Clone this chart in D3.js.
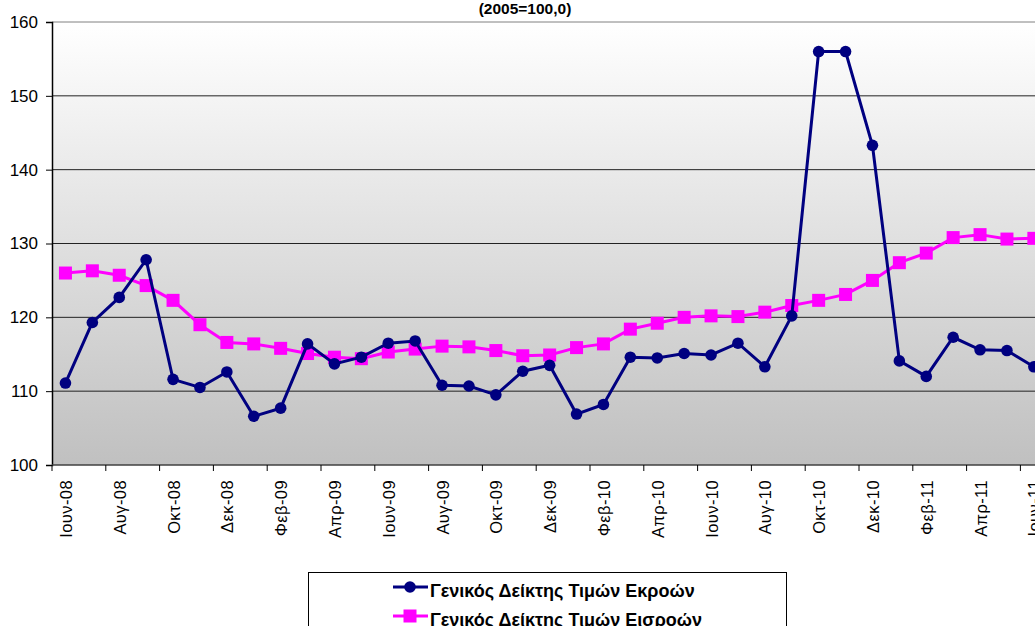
<!DOCTYPE html>
<html lang="el">
<head>
<meta charset="UTF-8">
<title>Γενικός Δείκτης Τιμών</title>
<script src="https://d3js.org/d3.v7.min.js"></script>
<style>
  body { margin: 0; padding: 0; background: #fff; }
  svg { display: block; font-family: "Liberation Sans", Arial, sans-serif; }
</style>
</head>
<body>
<div id="chart"></div>
<script>
  // months, Jun-08 .. Jun-11
  var months = ['Ιουν-08', 'Ιουλ-08', 'Αυγ-08', 'Σεπ-08', 'Οκτ-08', 'Νοε-08', 'Δεκ-08',
    'Ιαν-09', 'Φεβ-09', 'Μαρ-09', 'Απρ-09', 'Μαϊ-09', 'Ιουν-09', 'Ιουλ-09', 'Αυγ-09',
    'Σεπ-09', 'Οκτ-09', 'Νοε-09', 'Δεκ-09', 'Ιαν-10', 'Φεβ-10', 'Μαρ-10', 'Απρ-10',
    'Μαϊ-10', 'Ιουν-10', 'Ιουλ-10', 'Αυγ-10', 'Σεπ-10', 'Οκτ-10', 'Νοε-10', 'Δεκ-10',
    'Ιαν-11', 'Φεβ-11', 'Μαρ-11', 'Απρ-11', 'Μαϊ-11', 'Ιουν-11'];

  var outputIndex = [111.1, 119.3, 122.7, 127.8, 111.6, 110.5, 112.6, 106.6, 107.7, 116.4,
    113.7, 114.6, 116.5, 116.8, 110.8, 110.7, 109.5, 112.7, 113.5, 106.9, 108.2, 114.6,
    114.5, 115.1, 114.9, 116.5, 113.3, 120.2, 156.0, 156.0, 143.3, 114.1, 112.0, 117.3,
    115.6, 115.5, 113.3];

  var inputIndex = [126.0, 126.3, 125.7, 124.3, 122.3, 119.0, 116.6, 116.4, 115.8, 115.1,
    114.6, 114.4, 115.3, 115.7, 116.1, 116.0, 115.5, 114.8, 114.9, 115.9, 116.4, 118.4,
    119.2, 120.0, 120.2, 120.1, 120.7, 121.6, 122.3, 123.1, 125.0, 127.4, 128.7, 130.8,
    131.2, 130.6, 130.7];

  var yTicks = [100, 110, 120, 130, 140, 150, 160];
  var seriesNames = ['Γενικός Δείκτης Τιμών Εκροών', 'Γενικός Δείκτης Τιμών Εισροών'];
  var subtitle = '(2005=100,0)';

  drawChart();

  function drawChart() {
    var W = 1035, H = 626;
    var plotLeft = 52, plotTop = 22, plotBottom = 465;
    var bandW = 26.9;
    var plotRight = plotLeft + bandW * months.length;

    var svg = d3.select('#chart').append('svg')
      .attr('width', W).attr('height', H);

    var x = d3.scaleBand().domain(months).range([plotLeft, plotRight]).padding(0);
    var y = d3.scaleLinear().domain([100, 160]).range([plotBottom, plotTop]);

    // plot background gradient
    var grad = svg.append('defs').append('linearGradient')
      .attr('id', 'bg').attr('x1', 0).attr('y1', 0).attr('x2', 0).attr('y2', 1);
    grad.append('stop').attr('offset', '0%').attr('stop-color', '#ffffff');
    grad.append('stop').attr('offset', '100%').attr('stop-color', '#c0c0c0');

    svg.append('rect')
      .attr('x', plotLeft).attr('y', plotTop)
      .attr('width', plotRight - plotLeft).attr('height', plotBottom - plotTop)
      .attr('fill', 'url(#bg)');

    // gridlines
    svg.append('g').selectAll('line')
      .data(yTicks.slice(1))
      .enter().append('line')
      .attr('x1', plotLeft).attr('x2', plotRight)
      .attr('y1', function (d) { return y(d); })
      .attr('y2', function (d) { return y(d); })
      .attr('stroke', function (d) { return d === 160 ? '#808080' : '#222'; })
      .attr('stroke-width', 1);

    // y axis
    var yAxis = svg.append('g')
      .attr('transform', 'translate(' + plotLeft + ',0)')
      .call(d3.axisLeft(y).tickValues(yTicks).tickSize(6).tickPadding(8));
    yAxis.select('.domain').attr('stroke', '#000').attr('stroke-width', 1.5);
    yAxis.selectAll('.tick line').attr('stroke', '#000');
    yAxis.selectAll('text').attr('font-size', 17).attr('fill', '#000')
      .attr('font-family', '"Liberation Sans", Arial, sans-serif');

    // x axis: ticks every two months on band boundaries
    svg.append('line')
      .attr('x1', plotLeft).attr('x2', plotRight)
      .attr('y1', plotBottom).attr('y2', plotBottom)
      .attr('stroke', '#404040').attr('stroke-width', 1.5);

    var evenMonths = months.filter(function (_, i) { return i % 2 === 0; });
    svg.append('g').selectAll('line')
      .data(evenMonths)
      .enter().append('line')
      .attr('x1', function (d) { return x(d); })
      .attr('x2', function (d) { return x(d); })
      .attr('y1', plotBottom).attr('y2', plotBottom + 6)
      .attr('stroke', '#000');

    svg.append('g').selectAll('text')
      .data(evenMonths)
      .enter().append('text')
      .attr('transform', function (d) {
        return 'translate(' + (x(d) + x.bandwidth() / 2 + 6.5) + ',' + (plotBottom + 15) + ') rotate(-90)';
      })
      .attr('text-anchor', 'end')
      .attr('font-size', 16.5)
      .attr('letter-spacing', 0.4)
      .text(function (d) { return d; });

    // series
    var cx = function (_, i) { return x(months[i]) + x.bandwidth() / 2; };
    var line = d3.line().x(cx).y(function (d) { return y(d); });

    svg.append('path').datum(inputIndex)
      .attr('d', line).attr('fill', 'none')
      .attr('stroke', '#ff00ff').attr('stroke-width', 3);
    svg.append('g').selectAll('rect')
      .data(inputIndex)
      .enter().append('rect')
      .attr('x', function (d, i) { return cx(d, i) - 6.5; })
      .attr('y', function (d) { return y(d) - 6.5; })
      .attr('width', 13).attr('height', 13)
      .attr('fill', '#ff00ff');

    svg.append('path').datum(outputIndex)
      .attr('d', line).attr('fill', 'none')
      .attr('stroke', '#000080').attr('stroke-width', 3);
    svg.append('g').selectAll('circle')
      .data(outputIndex)
      .enter().append('circle')
      .attr('cx', cx)
      .attr('cy', function (d) { return y(d); })
      .attr('r', 5.8)
      .attr('fill', '#000080');

    // subtitle
    svg.append('text')
      .attr('x', 525).attr('y', 13.5)
      .attr('text-anchor', 'middle')
      .attr('font-size', 15.5).attr('font-weight', 'bold')
      .text(subtitle);

    // legend
    var legend = svg.append('g').attr('transform', 'translate(308,572)');
    legend.append('rect')
      .attr('x', 0.5).attr('y', 0.5).attr('width', 478).attr('height', 70)
      .attr('fill', '#fff').attr('stroke', '#000');

    var colors = ['#000080', '#ff00ff'];
    var item = legend.selectAll('.item')
      .data(seriesNames)
      .enter().append('g')
      .attr('transform', function (_, i) { return 'translate(0,' + (15 + i * 29) + ')'; });
    item.append('line')
      .attr('x1', 85).attr('x2', 120).attr('y1', 0).attr('y2', 0)
      .attr('stroke', function (_, i) { return colors[i]; }).attr('stroke-width', 3);
    item.filter(function (_, i) { return i === 0; }).append('circle')
      .attr('cx', 102).attr('cy', 0).attr('r', 5.8).attr('fill', colors[0]);
    item.filter(function (_, i) { return i === 1; }).append('rect')
      .attr('x', 95.5).attr('y', -6.5).attr('width', 13).attr('height', 13).attr('fill', colors[1]);
    item.append('text')
      .attr('x', 122).attr('y', 10)
      .attr('font-size', 18).attr('font-weight', 'bold')
      .text(function (d) { return d; });
  }
</script>
</body>
</html>
